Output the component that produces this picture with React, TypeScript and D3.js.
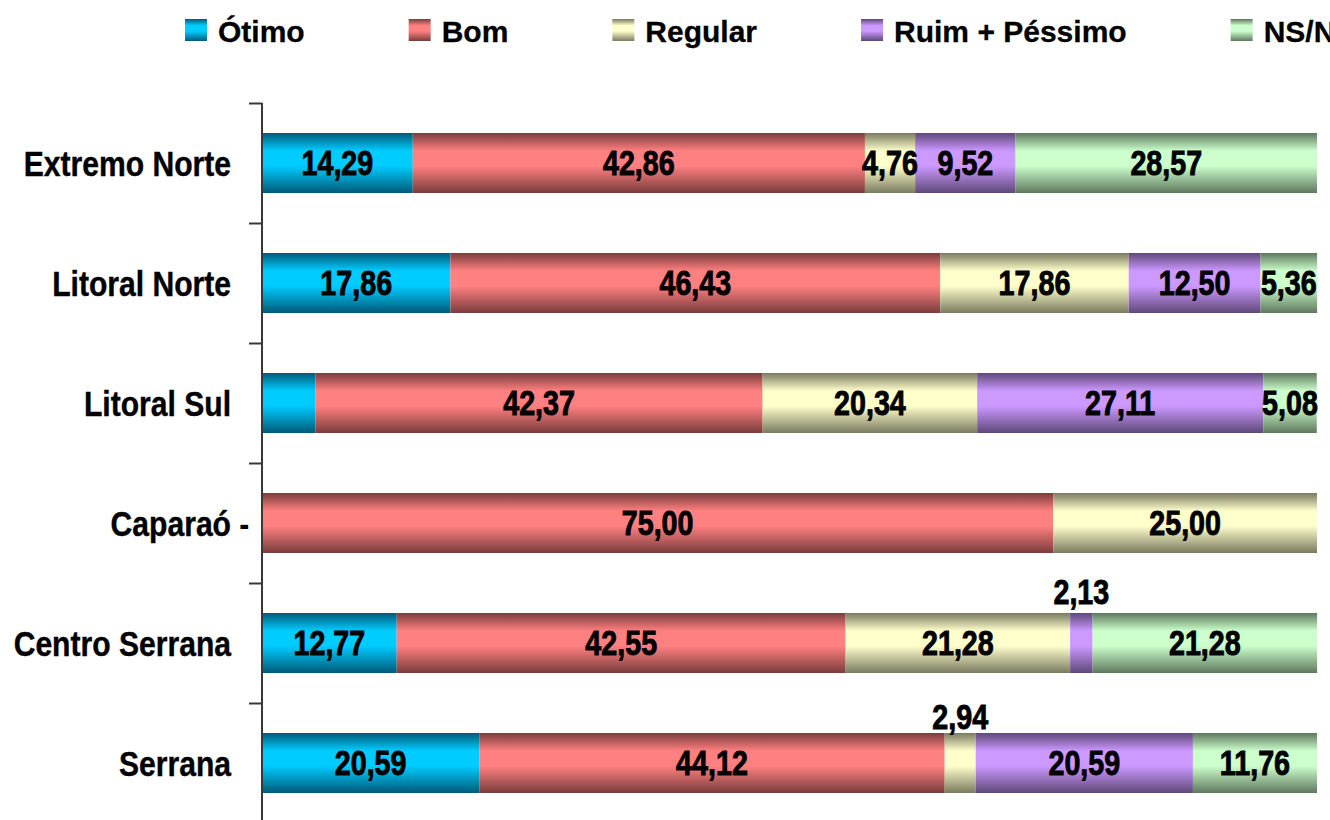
import React, { useEffect, useRef } from "react";
import * as d3 from "d3";

const categories = ["Extremo Norte", "Litoral Norte", "Litoral Sul", "Caparaó -", "Centro Serrana", "Serrana"];
const seriesNames = ["Ótimo", "Bom", "Regular", "Ruim + Péssimo", "NS/NR"];
const otimo = [14.29, 17.86, 5.08, 0, 12.77, 20.59];
const bom = [42.86, 46.43, 42.37, 75.0, 42.55, 44.12];
const regular = [4.76, 17.86, 20.34, 25.0, 21.28, 2.94];
const ruim = [9.52, 12.5, 27.11, 0, 2.13, 20.59];
const nsnr = [28.57, 5.36, 5.08, 0, 21.28, 11.76];
const seriesValues = [otimo, bom, regular, ruim, nsnr];
const xTicks = [0, 100];

// label handling
const hiddenLabels = [["Litoral Sul", "Ótimo"]];
const aboveLabels = [["Centro Serrana", "Ruim + Péssimo", 9], ["Serrana", "Regular", 4]];

const lightColors = ["#00CCFF", "#FF8080", "#FFFFCC", "#CC99FF", "#CCFFCC"];
const darkColors = ["#005A78", "#7A3C3C", "#7A7A60", "#5E4878", "#5E785E"];

const W = 1330;
const H = 820;
const FONT = "'Liberation Sans', Arial, sans-serif";

export default function App() {
  const ref = useRef<SVGSVGElement | null>(null);

  useEffect(() => {
    const svg = d3.select(ref.current);
    svg.selectAll("*").remove();

    const x = d3.scaleLinear().domain([xTicks[0], xTicks[1]]).range([262, 1317]);
    const y = d3.scaleBand<string>().domain(categories).range([103, 823]).paddingInner(0.5).paddingOuter(0.25);
    const bw = y.bandwidth();
    const step = y.step();

    // gradients
    const defs = svg.append("defs");
    seriesNames.forEach((_, i) => {
      const g = defs
        .append("linearGradient")
        .attr("id", `grad${i}`)
        .attr("x1", 0)
        .attr("y1", 0)
        .attr("x2", 0)
        .attr("y2", 1);
      const stops: [number, string][] = [
        [0, darkColors[i]],
        [0.3, lightColors[i]],
        [0.55, lightColors[i]],
        [1, darkColors[i]],
      ];
      stops.forEach(([o, c]) => g.append("stop").attr("offset", o).attr("stop-color", c));
    });

    // stack data
    const rows = categories.map((c, ci) => {
      const r: any = { cat: c };
      seriesNames.forEach((s, si) => (r[s] = seriesValues[si][ci]));
      return r;
    });
    const stacked = d3.stack<any>().keys(seriesNames)(rows);

    const fmt = (v: number) => d3.format(".2f")(v).replace(".", ",");

    // bars
    stacked.forEach((layer, si) => {
      svg
        .append("g")
        .selectAll("rect")
        .data(layer.filter((d) => d[1] - d[0] > 0))
        .join("rect")
        .attr("x", (d) => x(d[0]))
        .attr("y", (d) => y(d.data.cat)!)
        .attr("width", (d) => x(d[1]) - x(d[0]))
        .attr("height", bw)
        .attr("fill", `url(#grad${si})`);
    });

    // data labels
    const numScale = 0.82;
    stacked.forEach((layer, si) => {
      const name = seriesNames[si];
      layer.forEach((d) => {
        const v = d[1] - d[0];
        if (!(v > 0)) return;
        const cat = d.data.cat;
        if (hiddenLabels.some(([c, s]) => c === cat && s === name)) return;
        const above = aboveLabels.find(([c, s]) => c === cat && s === name);
        const cx = x((d[0] + d[1]) / 2);
        const by = above ? y(cat)! - (above[2] as number) : y(cat)! + bw / 2 + 12;
        svg
          .append("g")
          .attr("transform", `translate(${cx},${by}) scale(${numScale},1)`)
          .append("text")
          .attr("text-anchor", "middle")
          .attr("font-family", FONT)
          .attr("font-weight", "bold")
          .attr("font-size", 35)
          .attr("fill", "#000")
          .attr("stroke", "#000")
          .attr("stroke-width", 0.9)
          .text(fmt(seriesValues[si][categories.indexOf(cat)]));
      });
    });

    // axis line and ticks
    svg
      .append("line")
      .attr("x1", x(xTicks[0]))
      .attr("x2", x(xTicks[0]))
      .attr("y1", y(categories[0])! - (step - bw) / 2)
      .attr("y2", y(categories[categories.length - 1])! + bw + (step - bw) / 2)
      .attr("stroke", "#383838")
      .attr("stroke-width", 2);
    const boundaries = categories.map((c) => y(c)! - (step - bw) / 2);
    boundaries.push(y(categories[categories.length - 1])! + bw + (step - bw) / 2);
    svg
      .append("g")
      .selectAll("line")
      .data(boundaries)
      .join("line")
      .attr("x1", x(xTicks[0]) - 13)
      .attr("x2", x(xTicks[0]))
      .attr("y1", (d) => d + 0.5)
      .attr("y2", (d) => d + 0.5)
      .attr("stroke", "#383838")
      .attr("stroke-width", 2);

    // category labels
    const catScale = 0.86;
    categories.forEach((c) => {
      const parts = c.split(" -");
      const by = y(c)! + bw / 2 + 13;
      const g = svg.append("g").attr("transform", `translate(231,${by}) scale(${catScale},1)`);
      g.append("text")
        .attr("text-anchor", "end")
        .attr("font-family", FONT)
        .attr("font-weight", "bold")
        .attr("font-size", 35)
        .attr("fill", "#000")
        .attr("stroke", "#000")
        .attr("stroke-width", 0.4)
        .text(parts[0]);
      if (parts.length > 1) {
        g.append("text")
          .attr("text-anchor", "start")
          .attr("font-family", FONT)
          .attr("font-weight", "bold")
          .attr("font-size", 35)
          .attr("fill", "#000")
          .text(" -")
          .attr("xml:space", "preserve")
          .style("white-space", "pre");
      }
    });

    // legend
    let lx = 185;
    seriesNames.forEach((s, i) => {
      svg
        .append("rect")
        .attr("x", lx)
        .attr("y", 19)
        .attr("width", 22)
        .attr("height", 22)
        .attr("fill", `url(#grad${i})`);
      const t = svg
        .append("text")
        .attr("x", lx + 33)
        .attr("y", 41.5)
        .attr("font-family", FONT)
        .attr("font-weight", "bold")
        .attr("font-size", 30)
        .attr("fill", "#000")
        .attr("stroke", "#000")
        .attr("stroke-width", 0.3)
        .text(s);
      const tw = (t.node() as SVGTextElement).getComputedTextLength();
      lx = lx + 33 + tw + 104;
    });
  }, []);

  return (
    <div style={{ position: "absolute", left: 0, top: 0, width: W, height: H, overflow: "hidden", background: "#fff" }}>
      <svg ref={ref} width={W} height={H} style={{ display: "block" }} />
    </div>
  );
}
